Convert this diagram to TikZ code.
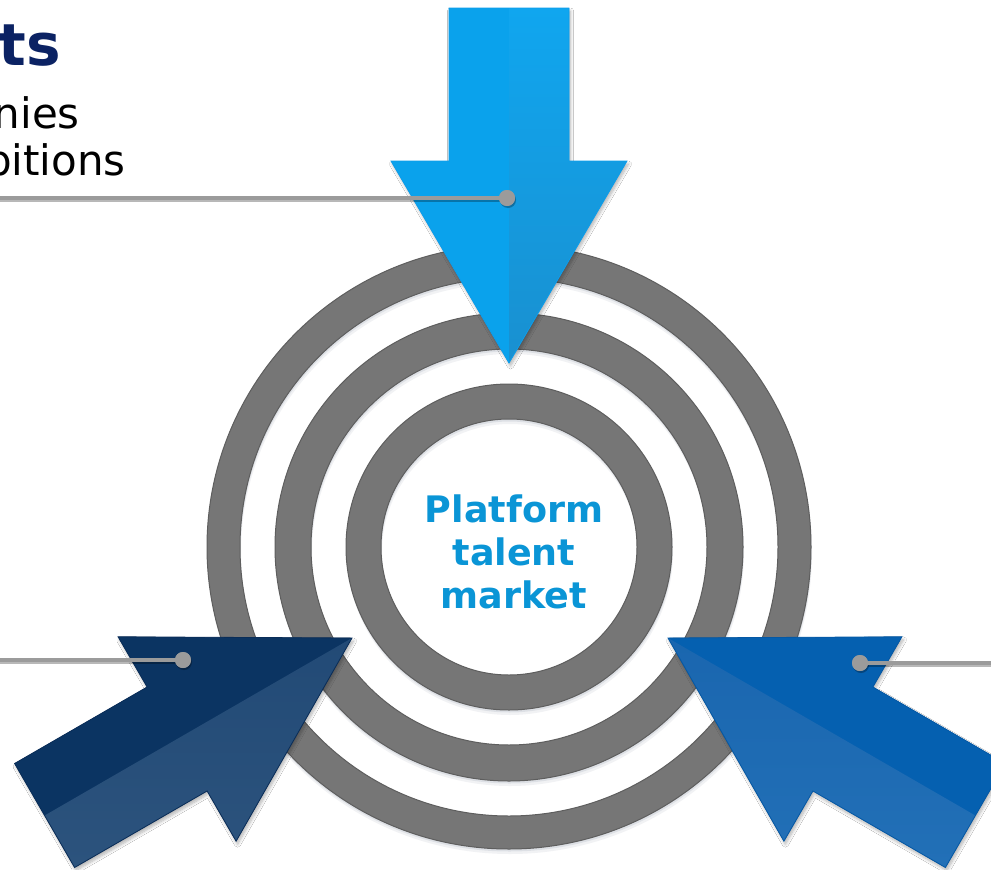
\documentclass[tikz,border=0pt]{standalone}
\usepackage{fontspec}
\setmainfont{DejaVu Sans}
\usetikzlibrary{shadows.blur}
\definecolor{ringgray}{HTML}{767676}
\definecolor{ringedge}{HTML}{5E5E5E}
\definecolor{shadowc}{HTML}{7A8699}
\definecolor{calloutc}{HTML}{9B9B9B}
\definecolor{titlec}{HTML}{0B2263}
\definecolor{centerc}{HTML}{0A95D6}
\definecolor{topL}{HTML}{0AA2EC}
\definecolor{topRa}{HTML}{10A6EF}
\definecolor{topRb}{HTML}{21ABEA}
\definecolor{topRc}{HTML}{1990D0}
\definecolor{topEdge}{HTML}{0D9DEB}
\definecolor{blU}{HTML}{0B3462}
\definecolor{blLa}{HTML}{2C537D}
\definecolor{blLb}{HTML}{224A76}
\definecolor{blEdge}{HTML}{0A2D58}
\definecolor{brU}{HTML}{0560B0}
\definecolor{brLa}{HTML}{2270B7}
\definecolor{brLb}{HTML}{1A66AF}
\definecolor{brEdge}{HTML}{0558A4}
\begin{document}
\begin{tikzpicture}[x=1pt,y=-1pt,
  ring/.style={fill=ringgray, draw=ringedge, line width=1pt, even odd rule},
  ringsh/.style={fill=shadowc, even odd rule},
  callout/.style={draw=calloutc, line width=4pt},
  calloutsh/.style={draw=black, opacity=0.28, line width=4pt},
  dotnode/.style={circle, fill=calloutc, minimum size=16pt, inner sep=0pt},
  dotsh/.style={circle, fill=black, opacity=0.28, minimum size=16pt, inner sep=0pt},
  arrowsh/.style={blur shadow={shadow xshift=1.5pt, shadow yshift=-3pt, shadow opacity=30, shadow blur steps=8, shadow blur radius=3pt}},
  titletext/.style={font=\fontsize{58}{62}\selectfont\bfseries, text=titlec, inner sep=0pt},
  bodytext/.style={font=\fontsize{42}{47}\selectfont, text=black, inner sep=0pt},
  centertext/.style={font=\fontsize{36.5}{43}\selectfont\bfseries, text=centerc, inner sep=0pt}
]
\useasboundingbox (0,0) rectangle (991,870);
\clip (0,0) rectangle (991,870);
\fill[white] (0,0) rectangle (991,870);
\coordinate (C) at (509,547);

% ring shadows
\foreach \ro/\ri in {302/269, 234/198, 163/128} {
  \fill[ringsh, opacity=0.10] ([yshift=-5pt,xshift=1pt]C) circle (\ro pt) ([yshift=-5pt,xshift=1pt]C) circle (\ri pt);
  \fill[ringsh, opacity=0.16] ([yshift=-2.5pt,xshift=0.5pt]C) circle (\ro pt) ([yshift=-2.5pt,xshift=0.5pt]C) circle (\ri pt);
}
% rings
\foreach \ro/\ri in {302/269, 234/198, 163/128} {
  \path[ring] (C) circle (\ro pt) (C) circle (\ri pt);
}

% center text
\node[centertext, anchor=base] (t1) at (514,522) {Platform};
\node[centertext, anchor=base] (t2) at (514,565) {talent};
\node[centertext, anchor=base] (t3) at (514,608) {market};

% top arrow
\path[arrowsh, fill=topL] (509,363) -- (391,161) -- (449,161) -- (449,8) -- (569,8) -- (569,161) -- (627,161) -- cycle;
\fill[topL] (509,363) -- (391,161) -- (449,161) -- (449,8) -- (509,8) -- cycle;
\shade[top color=topRa, middle color=topRb, bottom color=topRc] (509,363) -- (509,8) -- (569,8) -- (569,161) -- (627,161) -- cycle;
\draw[topEdge, line width=0.8pt, line join=miter] (509,363) -- (391,161) -- (449,161) -- (449,8) -- (569,8) -- (569,161) -- (627,161) -- cycle;

% bottom-left arrow
\path[arrowsh, fill=blU] (352,638) -- (118.1,636.8) -- (147.1,687) -- (14.6,763.5) -- (74.6,867.5) -- (207.1,791) -- (236.1,841.2) -- cycle;
\fill[blU] (352,638) -- (118.1,636.8) -- (147.1,687) -- (14.6,763.5) -- (44.6,815.5) -- cycle;
\shade[top color=blLb, bottom color=blLa] (352,638) -- (44.6,815.5) -- (74.6,867.5) -- (207.1,791) -- (236.1,841.2) -- cycle;
\draw[blEdge, line width=0.8pt] (352,638) -- (118.1,636.8) -- (147.1,687) -- (14.6,763.5) -- (74.6,867.5) -- (207.1,791) -- (236.1,841.2) -- cycle;

% bottom-right arrow
\path[arrowsh, fill=brU] (668,638) -- (901.9,636.8) -- (872.9,687) -- (1005.4,763.5) -- (945.4,867.5) -- (812.9,791) -- (783.9,841.2) -- cycle;
\fill[brU] (668,638) -- (901.9,636.8) -- (872.9,687) -- (1005.4,763.5) -- (975.4,815.5) -- cycle;
\shade[top color=brLb, bottom color=brLa] (668,638) -- (975.4,815.5) -- (945.4,867.5) -- (812.9,791) -- (783.9,841.2) -- cycle;
\draw[brEdge, line width=0.8pt] (668,638) -- (901.9,636.8) -- (872.9,687) -- (1005.4,763.5) -- (945.4,867.5) -- (812.9,791) -- (783.9,841.2) -- cycle;

% callouts
\coordinate (e1) at (-5,198);
\coordinate (e2) at (-5,660);
\coordinate (e3) at (996,663);
\node[dotsh] at (508,200) {};
\node[dotsh] at (184,662) {};
\node[dotsh] at (861,665) {};
\draw[calloutsh] (-5,199.5) -- (507,199.5);
\draw[calloutsh] (-5,661.5) -- (183,661.5);
\draw[calloutsh] (996,664.5) -- (860,664.5);
\node[dotnode] (d1) at (507,198) {};
\node[dotnode] (d2) at (183,660) {};
\node[dotnode] (d3) at (860,663) {};
\draw[callout] (e1) -- (d1.center);
\draw[callout] (e2) -- (d2.center);
\draw[callout] (e3) -- (d3.center);
\node[dotnode] at (d1) {};
\node[dotnode] at (d2) {};
\node[dotnode] at (d3) {};

% top-left text (cut off at the left edge, as in the reference)
\node[titletext, anchor=base east] (title) at (61,65) {ts};
\node[bodytext, anchor=base east] (l1) at (80,128) {nies};
\node[bodytext, anchor=base east] (l2) at (126,175) {bitions};
\end{tikzpicture}
\end{document}
